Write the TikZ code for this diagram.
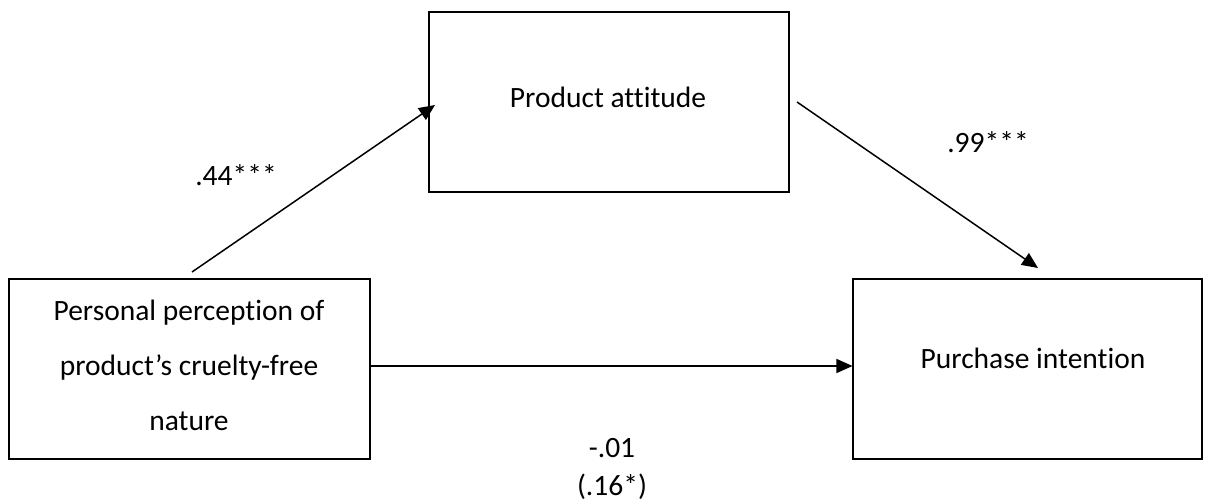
\documentclass[tikz,border=0pt]{standalone}
\usepackage{fontspec}
\setmainfont{Carlito}[Ligatures={NoCommon}]
\usetikzlibrary{arrows.meta}
\begin{document}
\begin{tikzpicture}[x=1pt,y=-1pt,
  box/.style={draw, line width=1.1pt, minimum height=180pt, inner sep=0pt},
  txt/.style={font=\fontsize{29.5}{55}\selectfont, align=center, inner sep=0pt},
  lbl/.style={font=\fontsize{29.5}{32}\selectfont, inner sep=0pt},
  path/.style={line width=1.5pt, -{Triangle[length=16pt,width=14pt]}}]
\useasboundingbox (0,0) rectangle (1212,503);
% the three variables
\node[box, minimum width=361pt] (pred) at (189.5,369) {};
\node[box, minimum width=360pt] (med) at (609,102) {};
\node[box, minimum width=349pt] (out) at (1027.5,369) {};
\node[txt] (predtxt) at (189,365) {Personal perception of\\product’s cruelty-free\\nature};
\node[txt] (medtxt) at (608,97) {Product attitude};
\node[txt] (outtxt) at (1033,358) {Purchase intention};
% end points of the indirect paths
\coordinate (a1) at (192,272);
\coordinate (a2) at (435,105);
\coordinate (b1) at (797,102);
\coordinate (b2) at (1038,268);
\draw[path] (a1) -- (a2);
\draw[path] (b1) -- (b2);
\draw[path] ([yshift=3pt]pred.east) -- ([yshift=3pt]out.west);
% coefficients
\node[lbl] (ca) at (236,175) {.44***};
\node[lbl] (cb) at (988,142) {.99***};
\node[lbl] (cc) at (612,448) {-.01};
\node[lbl] (cd) at (612,487) {(.16*)};
\end{tikzpicture}
\end{document}
